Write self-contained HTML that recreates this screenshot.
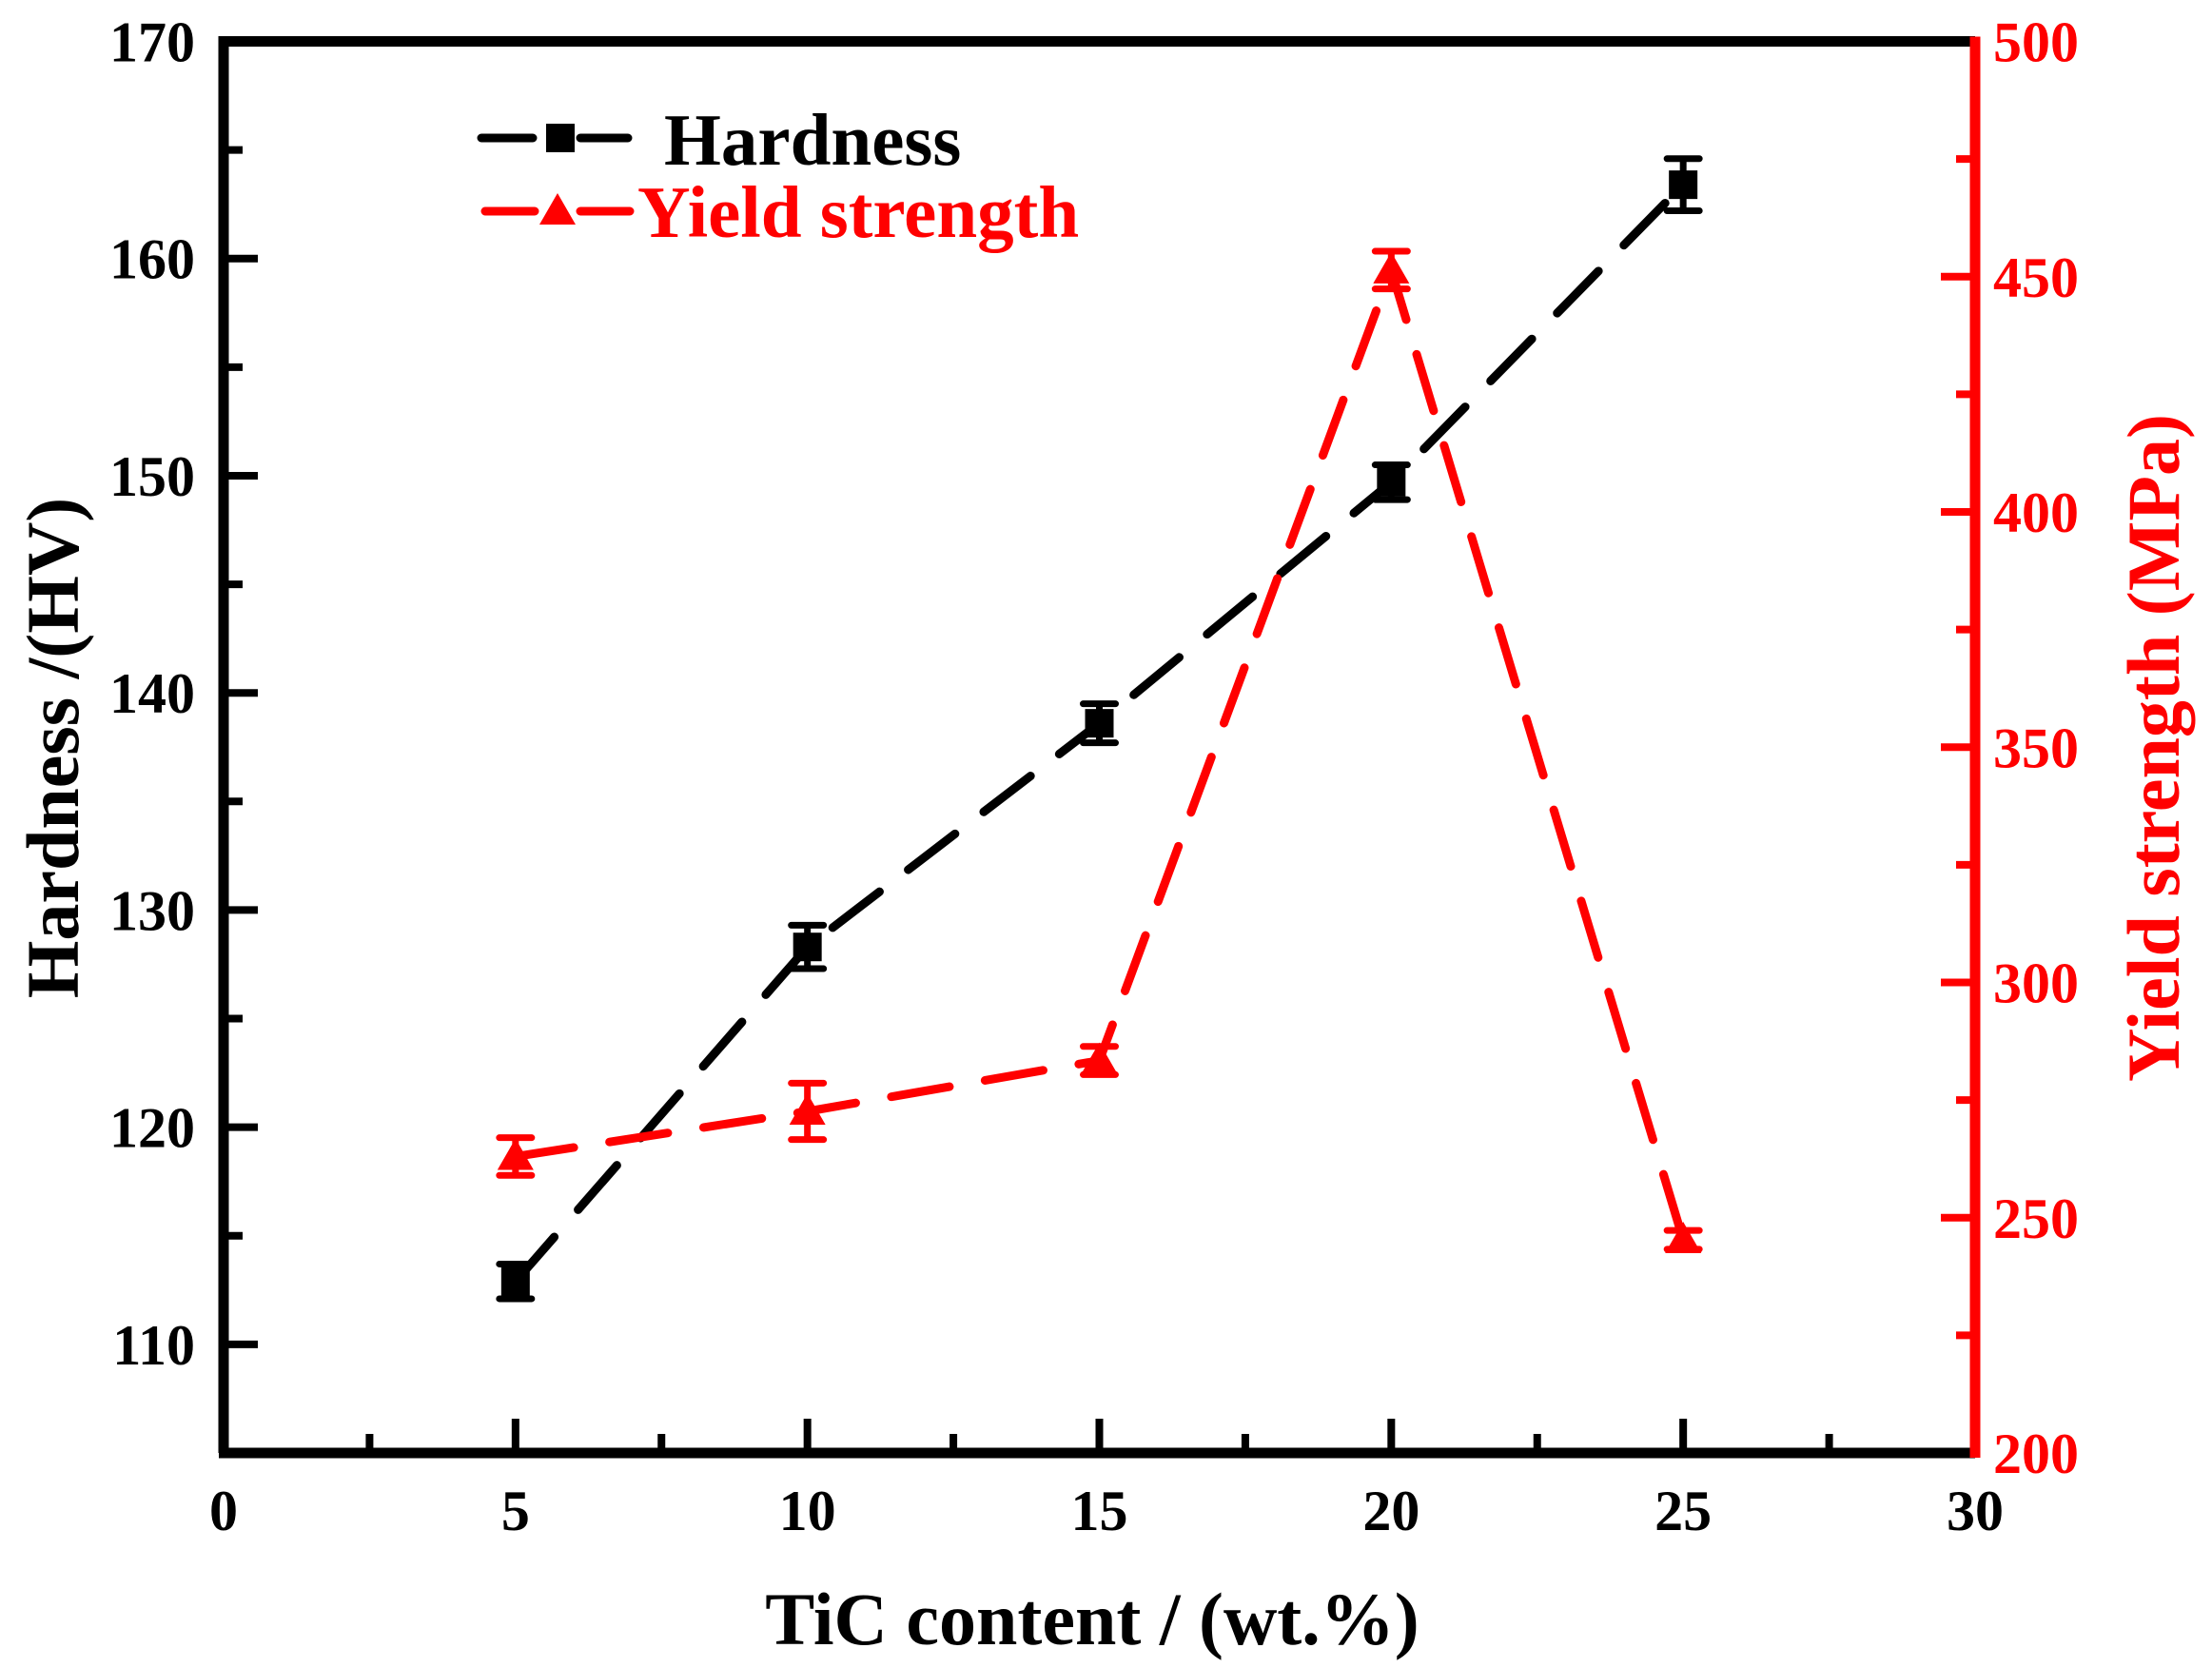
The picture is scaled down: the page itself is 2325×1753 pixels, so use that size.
<!DOCTYPE html>
<html><head><meta charset="utf-8"><style>
html,body{margin:0;padding:0;background:#fff}
svg{display:block}
text{font-family:"Liberation Serif",serif;font-weight:bold}
</style></head><body>
<svg id="chart" width="2325" height="1753" viewBox="0 0 2325 1753" xmlns="http://www.w3.org/2000/svg">
<g id="plot"></g>
</svg>
<script>
const categories = [5, 10, 15, 20, 25];
const hardness = [112.9, 128.3, 138.6, 149.7, 163.4];
const hardnessErr = [0.8, 1.0, 0.9, 0.8, 1.2];
const yieldStrength = [263, 272.6, 283.4, 451.4, 245.3];
const yieldErr = [4, 6, 3, 4, 2];
const xTicks = [0, 5, 10, 15, 20, 25, 30];
const leftTicks = [110, 120, 130, 140, 150, 160, 170];
const rightTicks = [200, 250, 300, 350, 400, 450, 500];

const L = 235, R = 2076, T = 43.5, B = 1527;
const xs = v => L + (v - 0) / 30 * (R - L);
const yl = v => B - (v - 105) / 65 * (B - T);
const yr = v => B - (v - 200) / 300 * (B - T);
const NS = 'http://www.w3.org/2000/svg';
const g = document.getElementById('plot');
function mk(tag, attrs, parent) {
  const e = document.createElementNS(NS, tag);
  for (const k in attrs) e.setAttribute(k, attrs[k]);
  (parent || g).appendChild(e);
  return e;
}

function series(vals, yf, color, name) {
  const pts = categories.map((c, i) => xs(c) + ',' + yf(vals[i])).join(' ');
  const pl = mk('polyline', {points: pts, fill: 'none', stroke: color, 'stroke-width': 9, 'stroke-dasharray': '62 38', 'stroke-linecap': 'round'});
  
  
}
series(hardness, yl, '#000', 'hardness');
series(yieldStrength, yr, '#ff0000', 'yield-strength');

categories.forEach((c, i) => {
  const x = xs(c);
  const e1 = mk('path', {d: `M${x},${yl(hardness[i]-hardnessErr[i])}V${yl(hardness[i]+hardnessErr[i])}M${x-17},${yl(hardness[i]-hardnessErr[i])}h34M${x-17},${yl(hardness[i]+hardnessErr[i])}h34`, stroke: '#000', 'stroke-width': 7, fill: 'none', 'stroke-linecap': 'round'});
  
  
  const m1 = mk('rect', {x: x - 15, y: yl(hardness[i]) - 15, width: 30, height: 30, fill: '#000'});
  
  
  const e2 = mk('path', {d: `M${x},${yr(yieldStrength[i]-yieldErr[i])}V${yr(yieldStrength[i]+yieldErr[i])}M${x-17},${yr(yieldStrength[i]-yieldErr[i])}h34M${x-17},${yr(yieldStrength[i]+yieldErr[i])}h34`, stroke: '#ff0000', 'stroke-width': 7, fill: 'none', 'stroke-linecap': 'round'});
  
  
  const y = yr(yieldStrength[i]);
  const m2 = mk('polygon', {points: `${x},${y-19} ${x-19},${y+14} ${x+19},${y+14}`, fill: '#ff0000'});
  
  
});

const ax = mk('path', {d: `M${L},${B}V${T}H${R}M${L-5},${B}H${R}`, stroke: '#000', 'stroke-width': 11, fill: 'none'});


const rax = mk('line', {x1: R, y1: T - 5, x2: R, y2: B + 5, stroke: '#ff0000', 'stroke-width': 11});



xTicks.forEach(v => {
  const x = xs(v);
  if (v > 0 && v < 30) {
    const t = mk('line', {x1: x, y1: B, x2: x, y2: B - 36, stroke: '#000', 'stroke-width': 8});
    
    
  }
  if (v < 30) {
    const t2 = mk('line', {x1: xs(v + 2.5), y1: B, x2: xs(v + 2.5), y2: B - 20, stroke: '#000', 'stroke-width': 8});
    
    
  }
  const lb = mk('text', {x: x, y: 1608, 'font-size': 60, 'text-anchor': 'middle', fill: '#000'});
  lb.textContent = v;
  
  
});
leftTicks.forEach(v => {
  const y = yl(v);
  if (v < 170) {
    const t = mk('line', {x1: L, y1: y, x2: L + 36, y2: y, stroke: '#000', 'stroke-width': 8});
    
    
    const t2 = mk('line', {x1: L, y1: yl(v + 5), x2: L + 20, y2: yl(v + 5), stroke: '#000', 'stroke-width': 8});
    
    
  }
  const lb = mk('text', {x: 205, y: y + 21, 'font-size': 60, 'text-anchor': 'end', fill: '#000'});
  lb.textContent = v;
  
  
});
rightTicks.forEach(v => {
  const y = yr(v);
  if (v > 200 && v < 500) {
    const t = mk('line', {x1: R, y1: y, x2: R - 36, y2: y, stroke: '#ff0000', 'stroke-width': 8});
    
    
  }
  if (v < 500) {
    const t2 = mk('line', {x1: R, y1: yr(v + 25), x2: R - 20, y2: yr(v + 25), stroke: '#ff0000', 'stroke-width': 8});
    
    
  }
  const lb = mk('text', {x: 2095, y: y + 21, 'font-size': 60, 'text-anchor': 'start', fill: '#ff0000'});
  lb.textContent = v;
  
  
});

const xt = mk('text', {x: 1148, y: 1728, 'font-size': 78, 'text-anchor': 'middle', fill: '#000'});
xt.textContent = 'TiC content / (wt.%)';


const ylt = mk('text', {x: 0, y: 0, 'font-size': 78, 'text-anchor': 'middle', fill: '#000', transform: 'translate(82,786) rotate(-90)'});
ylt.textContent = 'Hardness /(HV)';


const yrt = mk('text', {x: 0, y: 0, 'font-size': 78, 'text-anchor': 'middle', fill: '#ff0000', transform: 'translate(2290,786) rotate(-90)'});
yrt.textContent = 'Yield strength (MPa)';



const lg = mk('g', {});


mk('path', {d: 'M506,145H560M610,145H660', stroke: '#000', 'stroke-width': 9, 'stroke-linecap': 'round'}, lg);
mk('rect', {x: 574, y: 130, width: 30, height: 30, fill: '#000'}, lg);
const l1 = mk('text', {x: 698, y: 173, 'font-size': 77, fill: '#000'}, lg);
l1.textContent = 'Hardness';


mk('path', {d: 'M510,222H562M610,222H662', stroke: '#ff0000', 'stroke-width': 9, 'stroke-linecap': 'round'}, lg);
mk('polygon', {points: '586,203 567,236 605,236', fill: '#ff0000'}, lg);
const l2 = mk('text', {x: 670, y: 249, 'font-size': 77, fill: '#ff0000'}, lg);
l2.textContent = 'Yield strength';


</script>
</body></html>
